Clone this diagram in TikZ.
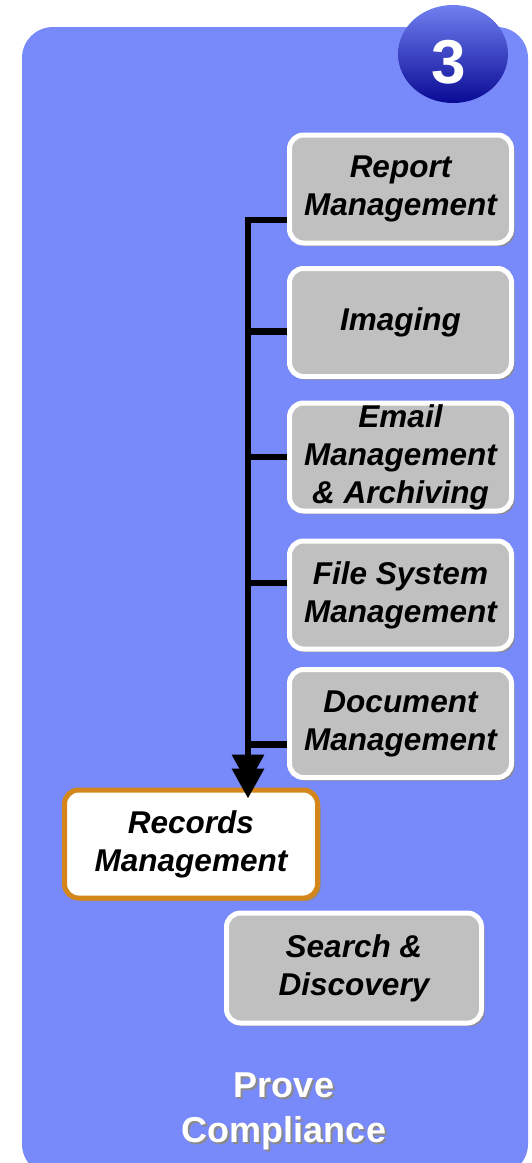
\documentclass[tikz,border=0pt]{standalone}
\usepackage{fontspec}
\setmainfont{Liberation Sans}
\usetikzlibrary{arrows.meta,shadows,calc}
\definecolor{panel}{HTML}{7889F9}
\definecolor{boxgray}{HTML}{C0C0C0}
\definecolor{shadowgray}{HTML}{8A8A8A}
\definecolor{orangeedge}{HTML}{D4861A}
\definecolor{circtop}{HTML}{7080F0}
\definecolor{circbot}{HTML}{0A0A94}
\tikzset{
  graybox/.style={draw=white, fill=boxgray, line width=5pt, rounded corners=14pt,
    minimum width=222pt, minimum height=108pt, align=center, inner sep=0pt,
    font=\bfseries\itshape\fontsize{31.5}{38}\selectfont,
    drop shadow={shadow xshift=3pt, shadow yshift=-3pt, fill=shadowgray, opacity=1}},
  recbox/.style={graybox, draw=orangeedge, fill=white, minimum width=253pt},
  conn/.style={line width=6.5pt, black},
  bigtitle/.style={font=\bfseries\fontsize{36}{45}\selectfont, align=center, inner sep=0pt}
}
\begin{document}
\begin{tikzpicture}[x=1pt,y=-1pt]
\fill[white] (0,0) rectangle (531,1163);
\useasboundingbox (0,0) rectangle (531,1163);
% panel
\fill[panel, rounded corners=31pt] (22,27) rectangle (528,1175);
% number badge
\shade[top color=circtop, bottom color=circbot] (453,54) ellipse [x radius=55, y radius=49];
\node[text=white, font=\bfseries\fontsize{62}{62}\selectfont, inner sep=0pt] (num) at (449,62) {3};
% boxes
\node[graybox] (rep) at (400.5,189) {Report\\Management};
\node[graybox] (img) at (400.5,322.5) {Imaging};
\node[graybox] (eml) at (400.5,457) {Email\\Management\\\& Archiving};
\node[graybox] (fil) at (400.5,595) {File System\\Management};
\node[graybox] (doc) at (400.5,723.5) {Document\\Management};
\node[recbox] (rec) at (191,844) {Records\\Management};
\node[graybox, minimum width=255pt, minimum height=110pt] (sea) at (354,968) {Search \&\\Discovery};
% connectors
\coordinate (c1) at ([yshift=-31pt]rep.west);
\coordinate (c2) at ([yshift=-9pt]img.west);
\coordinate (c3) at ([yshift=0pt]eml.west);
\coordinate (c4) at ([yshift=12pt]fil.west);
\coordinate (c5) at ([yshift=-21pt]doc.west);
\coordinate (vtop) at (248,220);
\draw[conn] (c1) -- (vtop);
\draw[conn] (c2) -- (c2 -| vtop);
\draw[conn] (c3) -- (c3 -| vtop);
\draw[conn] (c4) -- (c4 -| vtop);
\draw[conn] (c5) -- (c5 -| vtop);
\draw[conn, -{Triangle[width=31pt,length=30pt,sep=-16pt]Triangle[width=31pt,length=30pt]}, shorten >=-11pt]
  ([yshift=3pt]vtop) -- (rec.north -| vtop);
% title
\node[bigtitle, text=shadowgray] (tsh) at (286,1113) {Prove\\Compliance};
\node[bigtitle, text=white] (title) at (284,1111) {Prove\\Compliance};
\end{tikzpicture}
\end{document}
